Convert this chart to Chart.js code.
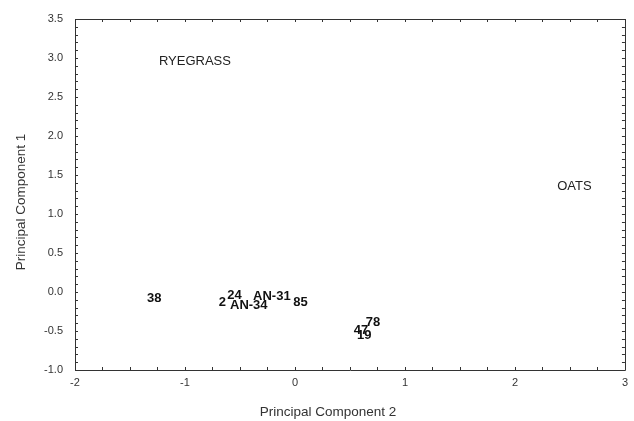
<!DOCTYPE html>
<html>
<head>
<meta charset="utf-8">
<script src="https://cdn.jsdelivr.net/npm/chart.js@4.4.1/dist/chart.umd.min.js"></script>
<style>
  html, body { margin: 0; padding: 0; background: #fff; }
  #wrap { width: 634px; height: 421px; }
</style>
</head>
<body>
<div id="wrap"><canvas id="c" width="634" height="421"></canvas></div>
<script>
// Sample labels and their scores (PC2 on x, PC1 on y)
const sampleLabels = ["38", "24", "2", "AN-34", "AN-31", "85", "78", "47", "19"];
const samplePC2 = [-1.28, -0.55, -0.66, -0.42, -0.21, 0.05, 0.71, 0.60, 0.63];
const samplePC1 = [-0.08, -0.05, -0.14, -0.17, -0.06, -0.14, -0.39, -0.49, -0.56];

// Group labels
const groupLabels = ["RYEGRASS", "OATS"];
const groupPC2 = [-0.91, 2.54];
const groupPC1 = [2.96, 1.35];

// Axis ticks
const xTicks = [-2, -1, 0, 1, 2, 3];
const yTicks = [-1.0, -0.5, 0.0, 0.5, 1.0, 1.5, 2.0, 2.5, 3.0, 3.5];

// Axis titles
const xTitle = "Principal Component 2";
const yTitle = "Principal Component 1";

const FONT = "'Liberation Sans', Arial, Helvetica, sans-serif";

const samplePoints = sampleLabels.map((l, i) => ({ x: samplePC2[i], y: samplePC1[i], label: l }));
const groupPoints = groupLabels.map((l, i) => ({ x: groupPC2[i], y: groupPC1[i], label: l }));

const textLabels = {
  id: 'textLabels',
  afterDatasetsDraw(chart) {
    const ctx = chart.ctx;
    chart.data.datasets.forEach((ds, di) => {
      const meta = chart.getDatasetMeta(di);
      ctx.save();
      ctx.font = ds.labelFont;
      ctx.fillStyle = ds.labelColor;
      ctx.textAlign = 'center';
      ctx.textBaseline = 'middle';
      meta.data.forEach((el, i) => {
        ctx.fillText(ds.data[i].label, el.x, el.y);
      });
      ctx.restore();
    });
  }
};

const frameTicks = {
  id: 'frameTicks',
  afterDraw(chart) {
    const ctx = chart.ctx;
    const a = chart.chartArea;
    const xs = chart.scales.x, ys = chart.scales.y;
    ctx.save();
    ctx.strokeStyle = '#333';
    ctx.lineWidth = 1;
    ctx.beginPath();
    ctx.rect(Math.round(a.left) + 0.5, Math.round(a.top) + 0.5, Math.round(a.right - a.left), Math.round(a.bottom - a.top));
    ctx.stroke();
    ctx.beginPath();
    const tl = 3;
    for (let v = xs.min; v <= xs.max + 1e-9; v += 0.25) {
      const px = Math.round(xs.getPixelForValue(v)) + 0.5;
      ctx.moveTo(px, a.bottom); ctx.lineTo(px, a.bottom - tl);
      ctx.moveTo(px, a.top); ctx.lineTo(px, a.top + tl);
    }
    for (let v = ys.min; v <= ys.max + 1e-9; v += 0.1) {
      const py = Math.round(ys.getPixelForValue(v)) + 0.5;
      ctx.moveTo(a.left, py); ctx.lineTo(a.left + tl, py);
      ctx.moveTo(a.right, py); ctx.lineTo(a.right - tl, py);
    }
    ctx.stroke();

    // axis titles
    ctx.fillStyle = '#333';
    ctx.font = "13.5px " + FONT;
    ctx.textAlign = 'center';
    ctx.textBaseline = 'middle';
    ctx.fillText(xTitle, 328, 412);
    ctx.translate(21, 202);
    ctx.rotate(-Math.PI / 2);
    ctx.fillText(yTitle, 0, 0);
    ctx.restore();
  }
};

new Chart(document.getElementById('c'), {
  type: 'scatter',
  data: {
    datasets: [
      { label: 'Samples', data: samplePoints, pointRadius: 0, pointHoverRadius: 0,
        labelFont: "bold 13px " + FONT, labelColor: '#111' },
      { label: 'Groups', data: groupPoints, pointRadius: 0, pointHoverRadius: 0,
        labelFont: "13px " + FONT, labelColor: '#222' }
    ]
  },
  options: {
    responsive: false,
    animation: false,
    events: [],
    layout: { padding: { left: 12, top: 19, right: 6, bottom: 0 } },
    plugins: { legend: { display: false }, tooltip: { enabled: false } },
    scales: {
      x: {
        type: 'linear', min: -2, max: 3,
        afterBuildTicks: s => { s.ticks = xTicks.map(v => ({ value: v })); },
        afterFit: s => { s.height = 51; },
        grid: { display: true, drawOnChartArea: false, drawTicks: false },
        border: { display: false },
        ticks: { padding: 6, color: '#333', font: { family: FONT, size: 11 },
          callback: v => String(v) },
        title: { display: false }
      },
      y: {
        type: 'linear', min: -1, max: 3.5,
        afterBuildTicks: s => { s.ticks = yTicks.map(v => ({ value: v })); },
        afterFit: s => { s.width = 63; },
        grid: { display: true, drawOnChartArea: false, drawTicks: false },
        border: { display: false },
        ticks: { padding: 12, color: '#333', font: { family: FONT, size: 11 },
          callback: v => Number(v).toFixed(1) },
        title: { display: false }
      }
    }
  },
  plugins: [textLabels, frameTicks]
});
</script>
</body>
</html>
